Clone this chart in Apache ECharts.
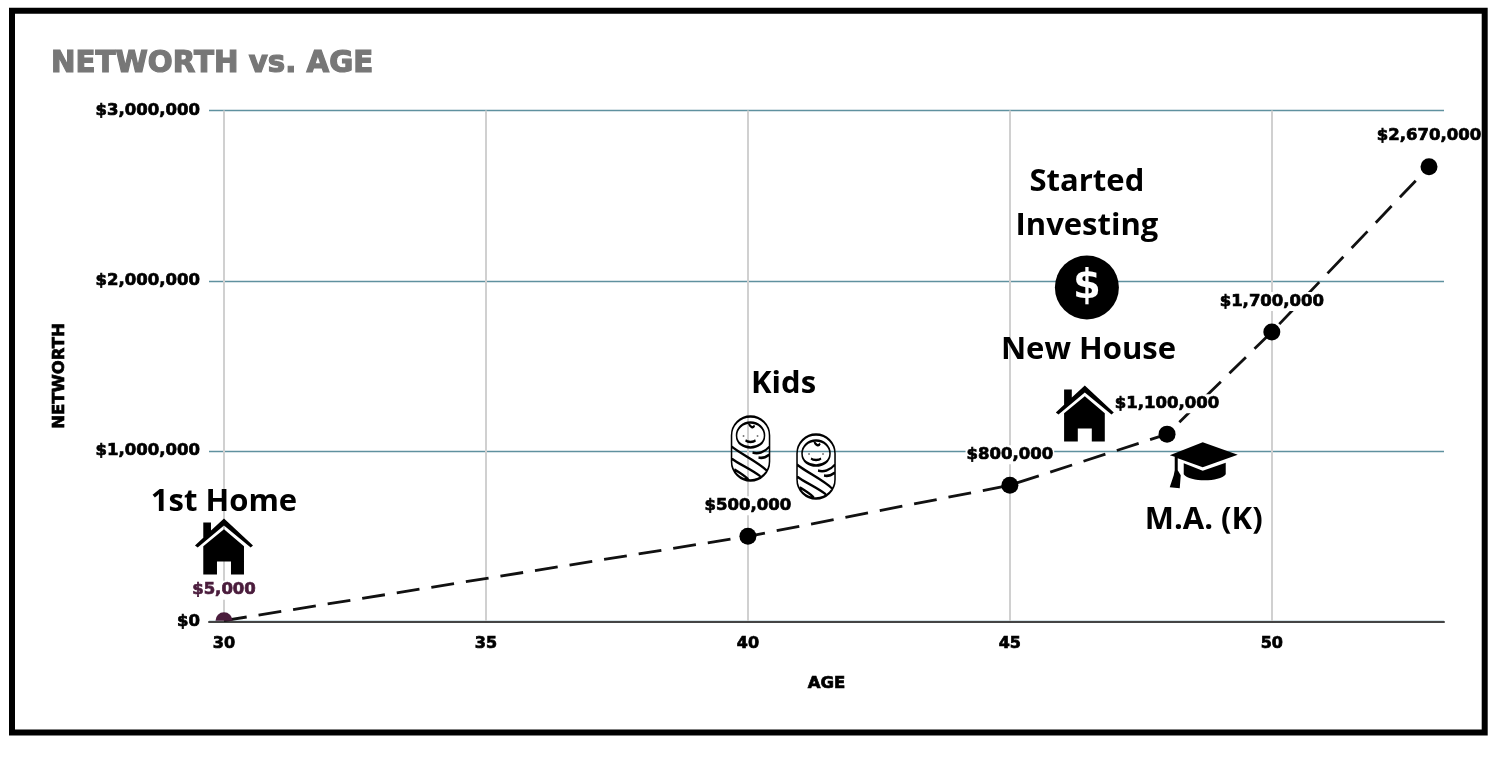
<!DOCTYPE html>
<html>
<head>
<meta charset="utf-8">
<title>Networth vs. Age</title>
<script src="https://cdn.jsdelivr.net/npm/echarts@6/dist/echarts.min.js"></script>
<style>
html, body { margin: 0; padding: 0; background: #fff; }
#chart { width: 1504px; height: 758px; }
</style>
</head>
<body>
<div id="chart"></div>
<script>
// values
var ages = [30, 40, 45, 48, 50, 53];
var networth = [5000, 500000, 800000, 1100000, 1700000, 2670000];
var ageTicks = [30, 35, 40, 45, 50];

// life events: [age, networth, text]
var notes = [
  [30, 701000, '1st Home'],
  [40.68, 1396000, 'Kids'],
  [46.47, 2451000, 'Started\nInvesting'],
  [46.5, 1590000, 'New House'],
  [48.7, 596000, 'M.A. (K)']
];
var houses = [[30, 440000], [46.43, 1221000]];
var babies = [[40.05, 1016000], [41.3, 910000]];
var investing = [[46.47, 1961000]];
var capPoint = [[48.7, 917000]];

var firstColor = '#4a1c3c';
var halfDot = 'path://M0,8.5 A8.5,8.5 0 0 1 17,8.5 Z';
var housePath = 'path://M29,0 L58,27 L55.7,29 L29,7 L2.7,29 L0,27 L8.3,19.3 L8.3,4 L16,4 L16,12 Z ' +
  'M29,10.7 L49,27.7 L49,56 L36,56 L36,43 L22,43 L22,56 L8.3,56 L8.3,27.7 Z';
var capPath = 'path://M33,0 L68,12.5 L33,25 L8,16 L8,28 L11,33 L10,46 L0,45 L4,33 L5,28 L5,14.5 L0,13 Z ' +
  'M14,21 L33,28.5 L56,20.5 L56,32 C50,40 20,40 14,32 Z';
var babyPath = 'path://M0,19 A19,19 0 0 1 38,19 L38,45 A19,19 0 0 1 0,45 Z ' +
  'M19,6 C27,6 33,12 33,19 C33,27 26,31 19,31 C12,31 5,27 5,19 C5,12 11,6 19,6 Z ' +
  'M17,6 C18,11 22,12 23,9 ' +
  'M14,24 C16,26 22,26 24,24 ' +
  'M12,19 L12,20 M26,19 L26,20 ' +
  'M0,30 C8,37 26,45 35,54 ' +
  'M0,42 C8,48 20,53 29,60 ' +
  'M38,30 C33,36 26,38 21,36 ' +
  'M38,38 C34,41 30,42 27,41 ' +
  'M3,53 C8,56 14,60 17,63';

var chart = echarts.init(document.getElementById('chart'));
var boldFont = '"DejaVu Sans"';
var money = function (v) { return '$' + v.toLocaleString('en-US'); };

chart.setOption({
  animation: false,
  backgroundColor: '#fff',
  title: {
    text: 'NETWORTH vs. AGE',
    left: 46,
    top: 45,
    textStyle: { color: '#777', fontFamily: boldFont, fontWeight: 'bold', fontSize: 29.3, textBorderColor: '#777', textBorderWidth: 1.2 }
  },
  grid: { left: 209, right: 60, top: 110.5, bottom: 136.5 },
  xAxis: {
    type: 'value',
    min: 29.714,
    max: 53.286,
    name: 'AGE',
    nameLocation: 'middle',
    nameGap: 54,
    nameTextStyle: { color: '#000', fontFamily: boldFont, fontWeight: 'bold', fontSize: 16.5, textBorderColor: '#000', textBorderWidth: 0.7 },
    axisLine: { onZero: false, lineStyle: { color: '#444', width: 2 } },
    axisTick: { show: false, customValues: ageTicks },
    axisLabel: { customValues: ageTicks, margin: 14, color: '#000', fontFamily: boldFont, fontWeight: 'bold', fontSize: 16, textBorderColor: '#000', textBorderWidth: 0.7 },
    splitLine: { show: true, lineStyle: { color: '#d0d0d0', width: 2 } }
  },
  yAxis: {
    type: 'value',
    min: 0,
    max: 3000000,
    interval: 1000000,
    name: 'NETWORTH',
    nameLocation: 'middle',
    nameGap: 141,
    nameTextStyle: { color: '#000', fontFamily: boldFont, fontWeight: 'bold', fontSize: 16.5, padding: [0, 20, 0, 0], textBorderColor: '#000', textBorderWidth: 0.7 },
    axisLine: { show: false },
    axisTick: { show: false },
    axisLabel: { margin: 9, padding: [3, 0, 0, 0], color: '#000', fontFamily: boldFont, fontWeight: 'bold', fontSize: 16.5, textBorderColor: '#000', textBorderWidth: 0.7, formatter: money },
    splitLine: { lineStyle: { color: '#5f919f', width: 1.3 } }
  },
  series: [
    {
      name: 'trend',
      type: 'line',
      data: ages.map(function (a, i) { return [a, networth[i]]; }),
      showSymbol: false,
      symbol: 'none',
      lineStyle: { color: '#111', width: 2.8, type: [23, 12] },
      z: 3
    },
    {
      name: 'dots',
      type: 'scatter',
      data: ages.map(function (a, i) {
        // the dot at age 30 is cut off by the axis
        if (i === 0) {
          return { value: [a, networth[i]], symbol: halfDot, symbolSize: [17, 8.5], symbolOffset: [0, -4.25], itemStyle: { color: firstColor } };
        }
        return { value: [a, networth[i]] };
      }),
      symbolSize: 17,
      itemStyle: { opacity: 1, color: '#000' },
      z: 4
    },
    {
      name: 'value labels',
      type: 'scatter',
      clip: false,
      data: ages.map(function (a, i) {
        return { value: [a, networth[i]], label: { color: i === 0 ? firstColor : '#000', textBorderColor: i === 0 ? firstColor : '#000' } };
      }),
      symbolSize: 17,
      itemStyle: { opacity: 1, color: 'transparent' },
      label: {
        show: true,
        position: 'top',
        distance: 12.5,
        fontFamily: boldFont,
        fontWeight: 'bold',
        fontSize: 16.5,
        textBorderWidth: 0.7,
        backgroundColor: '#fff',
        padding: [1, 1, 1, 1],
        formatter: function (p) { return money(p.value[1]); }
      },
      z: 5
    },
    {
      name: 'houses',
      type: 'scatter',
      data: houses,
      symbol: housePath,
      symbolSize: [58, 56],
      itemStyle: { opacity: 1, color: '#000' },
      z: 6
    },
    {
      name: 'babies',
      type: 'scatter',
      data: babies,
      symbol: babyPath,
      symbolSize: [38, 64],
      itemStyle: { opacity: 1, color: 'transparent', borderColor: '#000', borderWidth: 2 },
      z: 6
    },
    {
      name: 'investing',
      type: 'scatter',
      data: investing,
      symbol: 'circle',
      symbolSize: 64,
      itemStyle: { opacity: 1, color: '#000' },
      label: { show: true, position: 'inside', formatter: '$', color: '#fff', fontFamily: boldFont, fontWeight: 'bold', fontSize: 40 },
      z: 6
    },
    {
      name: 'cap',
      type: 'scatter',
      data: capPoint,
      symbol: capPath,
      symbolSize: [68, 46],
      itemStyle: { opacity: 1, color: '#000' },
      z: 6
    },
    {
      name: 'notes',
      type: 'scatter',
      data: notes,
      symbolSize: 0,
      itemStyle: { opacity: 1 },
      label: {
        show: true,
        position: 'inside',
        formatter: function (p) { return p.value[2]; },
        color: '#000',
        fontFamily: '"Open Sans"',
        fontWeight: 'bold',
        fontSize: 31,
        lineHeight: 44
      },
      z: 7
    }
  ],
  graphic: [
    {
      type: 'rect',
      z: 100,
      shape: { x: 12, y: 10.7, width: 1472.7, height: 721.7 },
      style: { fill: 'none', stroke: '#000', lineWidth: 6 }
    }
  ]
});
</script>
</body>
</html>
